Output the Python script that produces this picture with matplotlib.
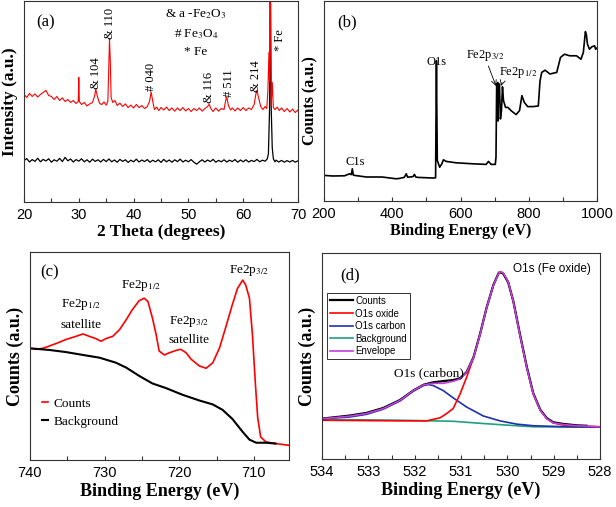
import numpy as np
import matplotlib
matplotlib.use("Agg")
import matplotlib.pyplot as plt
from matplotlib.ticker import MultipleLocator

plt.rcParams['font.family'] = ['Liberation Sans', 'DejaVu Sans']
plt.rcParams['mathtext.fontset'] = 'stix'
SERIF = ['Liberation Serif', 'DejaVu Serif']

# ---- (a) XRD, two traces: (2theta, intensity a.u.)
xrd_oxide = [
    (20.0, 53.5), (20.5, 52.0), (21.0, 54.0), (21.5, 52.5), (22.0, 53.8), (22.5, 52.2),
    (23.0, 53.5), (23.5, 54.5), (24.0, 55.5), (24.5, 53.0), (25.0, 52.5), (25.5, 51.0),
    (26.0, 52.5), (26.5, 50.5), (27.0, 51.8), (27.5, 50.0), (28.0, 51.0), (28.5, 49.5),
    (29.0, 50.5), (29.5, 49.0), (29.9, 50.0), (30.0, 62.0), (30.1, 50.0), (30.5, 48.5),
    (31.0, 49.5), (31.5, 47.8), (32.0, 48.8), (32.5, 49.5), (32.9, 53.0), (33.1, 56.0),
    (33.4, 52.5), (33.8, 49.0), (34.2, 48.5), (34.6, 49.8), (35.0, 48.2), (35.3, 50.0),
    (35.5, 70.0), (35.6, 81.0), (35.75, 70.0), (35.9, 52.0), (36.2, 49.5), (36.6, 50.5),
    (37.0, 48.0), (37.5, 49.2), (38.0, 47.5), (38.5, 48.8), (39.0, 47.0), (39.5, 48.2),
    (40.0, 46.8), (40.5, 48.5), (41.0, 47.0), (41.5, 48.0), (42.0, 46.5), (42.5, 47.5),
    (42.9, 50.0), (43.2, 54.7), (43.5, 50.0), (43.8, 46.0), (44.2, 47.2), (44.6, 45.5),
    (45.0, 47.0), (45.5, 45.8), (46.0, 47.2), (46.5, 45.5), (47.0, 46.8), (47.5, 45.2),
    (48.0, 46.8), (48.5, 45.5), (49.0, 47.0), (49.5, 45.3), (50.0, 46.5), (50.5, 45.0),
    (51.0, 46.5), (51.5, 45.5), (52.0, 46.8), (52.5, 45.2), (53.0, 46.5), (53.5, 47.5),
    (53.8, 48.6), (54.1, 46.5), (54.5, 45.0), (55.0, 46.8), (55.5, 45.2), (56.0, 46.5),
    (56.5, 46.0), (56.8, 50.5), (57.0, 52.2), (57.3, 48.0), (57.7, 45.8), (58.0, 46.8),
    (58.5, 45.3), (59.0, 46.8), (59.5, 45.5), (60.0, 47.0), (60.5, 45.5), (61.0, 46.8),
    (61.5, 46.0), (62.0, 48.5), (62.3, 53.5), (62.5, 55.5), (62.8, 52.0), (63.2, 47.5),
    (63.6, 46.0), (64.0, 47.5), (64.3, 46.5), (64.5, 55.0), (64.7, 74.5), (64.8, 60.0),
    (64.9, 105.0), (65.0, 105.0), (65.1, 48.0), (65.3, 59.6), (65.5, 47.0), (65.8, 46.0),
    (66.2, 47.2), (66.6, 45.5), (67.0, 46.8), (67.5, 45.0), (68.0, 46.5), (68.5, 44.8),
    (69.0, 46.2), (69.5, 44.5), (70.0, 45.8),
]
xrd_fe = [
    (20.0, 20.6), (20.5, 21.6), (21.0, 19.9), (21.5, 21.1), (22.0, 20.2), (22.5, 21.8),
    (23.0, 20.0), (23.5, 21.2), (24.0, 20.4), (24.5, 21.5), (25.0, 19.8), (25.5, 21.0),
    (26.0, 20.3), (26.5, 21.7), (27.0, 20.1), (27.5, 22.2), (28.0, 20.5), (28.5, 21.4),
    (29.0, 19.9), (29.5, 21.1), (30.0, 20.3), (30.5, 21.5), (31.0, 20.0), (31.5, 21.0),
    (32.0, 19.8), (32.5, 21.3), (33.0, 20.2), (33.5, 21.0), (34.0, 19.9), (34.5, 21.2),
    (35.0, 20.1), (35.5, 21.4), (36.0, 20.0), (36.5, 20.9), (37.0, 19.8), (37.5, 21.2),
    (38.0, 20.2), (38.5, 21.0), (39.0, 19.7), (39.5, 20.8), (40.0, 20.0), (40.5, 21.3),
    (41.0, 19.9), (41.5, 20.9), (42.0, 20.1), (42.5, 21.1), (43.0, 19.8), (43.5, 20.8),
    (44.0, 20.0), (44.5, 21.0), (45.0, 19.7), (45.5, 21.2), (46.0, 20.0), (46.5, 20.9),
    (47.0, 19.8), (47.5, 21.0), (48.0, 20.1), (48.5, 21.3), (49.0, 19.9), (49.5, 20.8),
    (50.0, 20.0), (50.5, 21.1), (51.0, 19.8), (51.5, 18.8), (52.0, 20.0), (52.5, 21.0),
    (53.0, 19.9), (53.5, 20.9), (54.0, 20.1), (54.5, 21.2), (55.0, 19.8), (55.5, 20.7),
    (56.0, 20.0), (56.5, 21.0), (57.0, 19.9), (57.5, 20.8), (58.0, 20.1), (58.5, 21.1),
    (59.0, 19.8), (59.5, 20.9), (60.0, 20.0), (60.5, 21.0), (61.0, 19.9), (61.5, 20.7),
    (62.0, 20.1), (62.5, 21.2), (63.0, 20.0), (63.5, 20.8), (64.0, 20.3), (64.4, 21.5),
    (64.6, 24.0), (64.8, 45.0), (64.95, 105.0), (65.1, 48.0), (65.3, 27.0), (65.5, 21.5),
    (65.8, 20.0), (66.0, 20.8), (66.5, 19.9), (67.0, 20.7), (67.5, 19.8), (68.0, 20.6),
    (68.5, 19.9), (69.0, 20.7), (69.5, 19.8), (70.0, 20.5),
]
xrd_peaks = [("& 104", 33.2, 64.0), ("& 110", 35.75, 89.0), ("# 040", 43.2, 62.0),
             ("& 116", 53.8, 56.8), ("# 511", 57.4, 59.0), ("& 214", 62.4, 62.4),
             ("* Fe", 66.65, 80.5)]
xrd_key = [("& a -Fe$_2$O$_3$", 93.7), ("# Fe$_3$O$_4$", 83.5), ("* Fe", 74.5)]

# ---- (b) XPS survey: (binding energy, counts a.u.)
survey = [
    (200, 12.8), (226, 12.5), (260, 12.6), (275, 13.6), (280, 13.2), (283, 16.1),
    (286, 12.9), (290, 12.8), (324, 12.0), (370, 12.0), (412, 11.1), (421, 11.3),
    (435, 11.8), (441, 13.6), (445, 11.9), (451, 12.0), (461, 12.2), (465, 13.3),
    (469, 12.0), (475, 11.8), (519, 11.5), (527, 11.6), (528.5, 48.5), (529.5, 70.1),
    (530.5, 48.5), (532, 20.3), (539, 16.9), (545, 18.5), (550, 20.6), (558, 19.8),
    (587, 19.1), (636, 18.6), (675, 18.3), (682, 19.8), (690, 18.3), (702, 18.3),
    (704, 21.9), (706, 58.5), (708, 58.0), (709, 59.3), (710, 40.0), (711, 57.0),
    (712, 53.5), (714, 58.5), (717, 41.0), (720, 45.2), (723, 57.1), (726, 50.2),
    (732, 46.8), (739, 46.8), (748, 45.2), (763, 43.2), (773, 45.2), (780, 52.7),
    (787, 49.3), (797, 47.2), (812, 47.2), (828, 47.5), (833, 60.0), (838, 64.3),
    (848, 65.4), (862, 63.5), (882, 64.3), (893, 71.8), (905, 73.4), (920, 72.6),
    (940, 72.6), (953, 70.9), (960, 74.3), (966, 84.7), (969, 83.0), (972, 78.4),
    (978, 75.9), (985, 77.1), (993, 77.6), (996, 75.9), (1000, 76.5),
]

# ---- (c) Fe 2p: (binding energy, counts a.u.)
fe2p_counts = [
    (740.0, 53.7), (739.2, 53.2), (738.3, 53.7), (737.4, 54.8), (736.3, 56.3), (735.2, 57.9),
    (733.8, 59.5), (732.9, 60.6), (732.1, 59.5), (731.2, 58.4), (730.5, 57.1), (729.8, 58.4),
    (728.9, 59.5), (728.0, 62.7), (727.1, 67.5), (726.3, 72.2), (725.4, 76.5), (724.7, 77.8),
    (724.2, 76.2), (723.6, 68.3), (723.1, 60.3), (722.7, 52.4), (722.0, 50.5), (721.3, 51.6),
    (720.4, 52.7), (719.8, 53.2), (719.1, 51.6), (718.4, 48.4), (717.3, 45.2), (716.4, 44.1),
    (715.5, 46.8), (714.6, 54.0), (713.8, 63.5), (712.9, 74.6), (712.2, 82.5), (711.5, 86.5),
    (711.1, 84.1), (710.6, 77.8), (710.2, 60.3), (709.8, 36.5), (709.5, 20.6), (709.1, 11.1),
    (708.4, 8.7), (707.1, 7.9), (705.4, 7.1),
]
fe2p_background = [
    (740.0, 53.7), (737.4, 52.9), (735.2, 51.9), (732.9, 50.5), (730.7, 49.2), (728.5, 46.8),
    (727.1, 44.4), (725.4, 40.5), (723.6, 36.8), (721.8, 34.6), (719.6, 31.4), (717.3, 28.6),
    (715.5, 26.7), (714.2, 24.1), (712.9, 19.8), (711.5, 13.5), (710.6, 9.8), (709.7, 8.3),
    (708.4, 8.3), (707.1, 7.9),
]
fe2p_labels = [("Fe2p$_{3/2}$", 710.6, 91.3), ("Fe2p$_{1/2}$", 725.1, 84.1),
               ("Fe2p$_{1/2}$", 733.2, 74.6), ("satellite", 733.2, 65.1),
               ("Fe2p$_{3/2}$", 718.7, 66.7), ("satellite", 718.7, 57.9)]

# ---- (d) O 1s fit: (binding energy, counts a.u.)
o1s_counts = [
    (534.0, 19.8), (533.76, 20.4), (533.40, 21.3), (533.04, 22.6), (532.68, 25.0), (532.32, 28.9),
    (532.03, 33.6), (531.81, 36.4), (531.60, 37.6), (531.38, 38.2), (531.17, 38.7), (531.02, 39.6),
    (530.88, 42.6), (530.73, 49.9), (530.59, 61.2), (530.45, 74.0), (530.30, 85.4), (530.19, 91.0),
    (530.16, 91.7), (530.09, 91.0), (529.98, 86.5), (529.87, 77.3), (529.73, 61.4), (529.58, 45.2),
    (529.44, 32.2), (529.29, 24.2), (529.15, 20.1), (529.01, 18.0), (528.79, 17.2), (528.50, 16.5),
    (528.29, 16.3),
]
o1s_oxide = [
    (534.0, 19.0), (532.32, 18.7), (531.74, 18.7), (531.45, 20.2), (531.31, 22.3), (531.17, 24.7),
    (531.02, 31.9), (530.88, 40.0), (530.73, 49.7), (530.59, 61.0), (530.45, 73.9), (530.30, 85.2),
    (530.18, 91.6), (530.09, 90.8), (529.98, 86.8), (529.87, 77.1), (529.73, 61.0), (529.58, 44.8),
    (529.44, 31.9), (529.29, 23.9), (529.15, 19.8), (529.01, 17.7), (528.79, 16.6), (528.0, 15.8),
]
o1s_carbon = [
    (534.0, 19.8), (533.40, 20.6), (533.04, 21.9), (532.68, 24.4), (532.32, 28.4), (532.03, 33.2),
    (531.81, 36.0), (531.71, 36.5), (531.60, 36.0), (531.38, 33.5), (531.17, 30.0), (530.88, 25.5),
    (530.52, 21.1), (530.16, 18.7), (529.80, 17.1), (529.44, 16.3), (528.72, 15.8), (528.0, 15.6),
]
o1s_background = [
    (534.0, 19.4), (532.32, 19.0), (531.17, 18.5), (530.52, 17.4), (529.80, 16.3), (529.44, 15.8),
    (528.0, 15.6),
]
o1s_envelope = [
    (534.0, 19.8), (533.76, 20.2), (533.40, 21.0), (533.04, 22.3), (532.68, 24.7), (532.32, 28.7),
    (532.03, 33.5), (531.81, 36.3), (531.60, 37.1), (531.38, 37.1), (531.17, 38.1), (531.02, 39.2),
    (530.88, 42.4), (530.73, 49.7), (530.59, 61.0), (530.45, 73.9), (530.30, 85.2), (530.19, 90.8),
    (530.16, 91.9), (530.09, 91.3), (529.98, 86.8), (529.87, 77.1), (529.73, 61.0), (529.58, 44.8),
    (529.44, 31.9), (529.29, 23.9), (529.15, 19.8), (529.01, 17.7), (528.79, 16.9), (528.50, 16.3),
    (528.29, 16.1), (528.0, 15.8),
]


def xy(pairs):
    a = np.array(pairs, dtype=float)
    return a[:, 0], a[:, 1]


W, H = 616, 507
fig = plt.figure(figsize=(W / 100, H / 100), dpi=100)


def panel(l, r, t, b):
    ax = fig.add_axes([l / W, 1 - b / H, (r - l) / W, (b - t) / H])
    for s in ax.spines.values():
        s.set_linewidth(0.8)
        s.set_color('#333333')
    ax.tick_params(axis='x', which='both', direction='in', top=False, labelsize=10.5,
                   length=3, width=0.8, color='#333333', pad=4)
    ax.tick_params(axis='y', which='both', left=False, labelleft=False)
    return ax


def labels(ax, xl, yl, tag, tx, ty, size=11.5):
    ax.set_xlabel(xl, fontfamily=SERIF, fontweight='bold', fontsize=size, labelpad=2)
    ax.set_ylabel(yl, fontfamily=SERIF, fontweight='bold', fontsize=size, labelpad=4)
    ax.text(tx, ty, tag, transform=ax.transAxes, fontfamily=SERIF, fontsize=12,
            ha='center', va='center')


# (a)
ax = panel(24, 298, 1, 202)
ax.plot(*xy(xrd_fe), color='black', lw=0.9)
ax.plot(*xy(xrd_oxide), color='red', lw=0.8)
ax.set_xlim(20, 70)
ax.set_ylim(0, 100)
ax.xaxis.set_major_locator(MultipleLocator(10))
ax.xaxis.set_minor_locator(MultipleLocator(5))
for txt, x, y in xrd_peaks:
    ax.text(x, y, txt, rotation=90, ha='center', va='center', fontfamily=SERIF, fontsize=9)
for txt, y in xrd_key:
    ax.text(51.4, y, txt, ha='center', va='center', fontfamily=SERIF, fontsize=9.5)
labels(ax, '2 Theta (degrees)', 'Intensity (a.u.)', '(a)', 0.08, 0.895, size=12.5)

# (b)
ax = panel(324, 597, 1, 201)
ax.plot(*xy(survey), color='black', lw=1.2)
ax.set_xlim(200, 1000)
ax.set_ylim(0, 100)
ax.xaxis.set_major_locator(MultipleLocator(200))
ax.xaxis.set_minor_locator(MultipleLocator(100))
ax.text(292, 19.4, 'C1s', ha='center', va='center', fontfamily=SERIF, fontsize=9)
ax.text(530, 69.5, 'O1s', ha='center', va='center', fontfamily=SERIF, fontsize=9)
ax.annotate('Fe2p$_{3/2}$', xy=(704, 57.5), xytext=(617, 72.6), ha='left', va='center',
            fontfamily=SERIF, fontsize=9,
            arrowprops=dict(arrowstyle='->', lw=0.6, color='black', shrinkA=0, shrinkB=0,
                            relpos=(0.55, 0.0)))
ax.annotate('Fe2p$_{1/2}$', xy=(719, 57.5), xytext=(714, 64.3), ha='left', va='center',
            fontfamily=SERIF, fontsize=9,
            arrowprops=dict(arrowstyle='->', lw=0.6, color='black', shrinkA=0, shrinkB=0,
                            relpos=(0.1, 0.1)))
labels(ax, 'Binding Energy (eV)', 'Counts (a.u.)', '(b)', 0.084, 0.895)

# (c)
ax = panel(30, 289, 252, 460)
ax.plot(*xy(fe2p_counts), color='red', lw=1.2, label='Counts')
ax.plot(*xy(fe2p_background), color='black', lw=1.5, label='Background')
ax.set_xlim(740, 705.3)
ax.set_ylim(0, 100)
ax.xaxis.set_major_locator(MultipleLocator(10))
ax.xaxis.set_minor_locator(MultipleLocator(5))
for txt, x, y in fe2p_labels:
    ax.text(x, y, txt, ha='center', va='center', fontfamily=SERIF, fontsize=9.5)
ax.legend(loc='upper left', bbox_to_anchor=(0.045, 0.3), frameon=False,
          prop={'family': SERIF, 'size': 9.5}, handlelength=0.5, handletextpad=0.4,
          labelspacing=0.45, borderpad=0, borderaxespad=0)
labels(ax, 'Binding Energy (eV)', 'Counts (a.u.)', '(c)', 0.077, 0.9, size=13)

# (d)
ax = panel(322, 600, 253, 459)
lb, = ax.plot(*xy(o1s_background), color='#20a080', lw=1.2, label='Background')
lc, = ax.plot(*xy(o1s_carbon), color='#2030b0', lw=1.2, label='O1s carbon')
lo, = ax.plot(*xy(o1s_oxide), color='red', lw=1.2, label='O1s oxide')
lk, = ax.plot(*xy(o1s_counts), color='black', lw=1.6, label='Counts')
le, = ax.plot(*xy(o1s_envelope), color='#c040e0', lw=1.2, label='Envelope')
ax.set_xlim(534, 528)
ax.set_ylim(0, 101)
ax.xaxis.set_major_locator(MultipleLocator(1))
ax.xaxis.set_minor_locator(MultipleLocator(0.5))
ax.text(529.04, 93.2, 'O1s (Fe oxide)', ha='center', va='center', fontsize=8.5)
ax.text(531.7, 41.9, 'O1s (carbon)', ha='center', va='center', fontfamily=SERIF, fontsize=9.5)
leg = ax.legend([lk, lo, lc, lb, le], ['Counts', 'O1s oxide', 'O1s carbon', 'Background', 'Envelope'],
                loc='upper left', bbox_to_anchor=(0.018, 0.806), fontsize=7, fancybox=False,
                edgecolor='black', handlelength=2.4, handletextpad=0.2, labelspacing=0.27,
                borderpad=0.3, borderaxespad=0)
leg.get_frame().set_linewidth(0.7)
labels(ax, 'Binding Energy (eV)', 'Counts (a.u.)', '(d)', 0.1, 0.893, size=13)

fig.savefig('out.png', dpi=100, facecolor='white')
